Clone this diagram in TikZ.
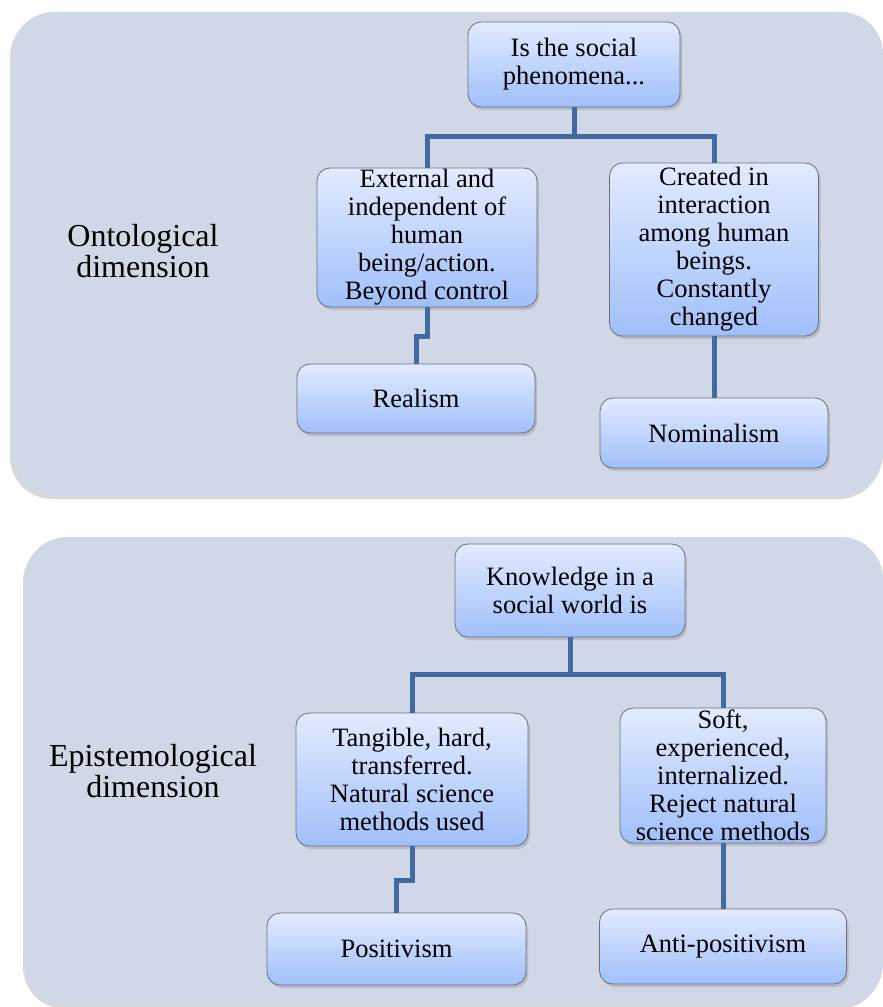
\documentclass[tikz,border=0pt]{standalone}
\usepackage{fontspec}
\setmainfont{Liberation Serif}
\usetikzlibrary{shadows}
\definecolor{panelfill}{RGB}{208,215,230}
\definecolor{boxtop}{RGB}{226,235,255}
\definecolor{boxbottom}{RGB}{160,191,250}
\definecolor{boxline}{RGB}{105,112,124}
\definecolor{linkblue}{RGB}{66,106,158}

\begin{document}
\begin{tikzpicture}[x=1pt,y=-1pt]
\tikzstyle{panel}=[fill=panelfill, rounded corners=42pt,
    drop shadow={shadow xshift=-2pt, shadow yshift=-3pt, opacity=0.3}]
\tikzstyle{box}=[rectangle, draw=boxline, line width=0.8pt, rounded corners=13pt,
    top color=boxtop, bottom color=boxbottom, inner sep=0pt, align=center,
    font=\fontsize{26.5}{28}\selectfont,
    drop shadow={shadow xshift=2pt, shadow yshift=-3pt, opacity=0.3}]
\tikzstyle{dimlabel}=[align=center, font=\fontsize{32}{31}\selectfont]
\tikzstyle{link}=[draw=linkblue, line width=5pt]

\useasboundingbox (0,0) rectangle (883,1007);

\path[panel] (12,12) rectangle (883,496);
\path[panel] (25,537) rectangle (883,1006);

\node[dimlabel] (ont) at (143,251) {Ontological\\dimension};
\node[dimlabel] (epi) at (153,771) {Epistemological\\dimension};

    \node[box, minimum width=212pt, minimum height=85pt] (Q) at (574,64.5)
    {Is the social\\phenomena...};
    \node[box, minimum width=220pt, minimum height=139pt] (E) at (427,237.5)
    {External and\\independent of\\human\\being/action.\\Beyond control};
    \node[box, minimum width=238pt, minimum height=69pt] (R) at (416,398.5) {Realism};
    \node[box, minimum width=209pt, minimum height=173pt] (C) at (714,249.5)
    {Created in\\interaction\\among human\\beings.\\Constantly\\changed};
    \node[box, minimum width=228pt, minimum height=70pt] (N) at (714,433) {Nominalism};

\draw[link] (Q.south) -- ++(0,29) coordinate (qsplit);
\draw[link] (E.north) |- (qsplit) -| (C.north);
\draw[link] (E.south) -- ++(0,29) -| (R.north);
\draw[link] (C.south) -- (N.north);

    \node[box, minimum width=230pt, minimum height=93pt] (K) at (570,590.5)
    {Knowledge in a\\social world is};
    \node[box, minimum width=232pt, minimum height=133pt] (T) at (412,779.5)
    {Tangible, hard,\\transferred.\\Natural science\\methods used};
    \node[box, minimum width=259pt, minimum height=72pt] (P) at (396.5,949) {Positivism};
    \node[box, minimum width=206pt, minimum height=135pt] (S) at (723,775.5)
    {Soft,\\experienced,\\internalized.\\Reject natural\\science methods};
    \node[box, minimum width=247pt, minimum height=75pt] (A) at (723,946.5) {Anti-positivism};

\draw[link] (K.south) -- ++(0,37) coordinate (ksplit);
\draw[link] (T.north) |- (ksplit) -| (S.north);
\draw[link] (T.south) -- ++(0,34) -| (P.north);
\draw[link] (S.south) -- (A.north);
\end{tikzpicture}
\end{document}
